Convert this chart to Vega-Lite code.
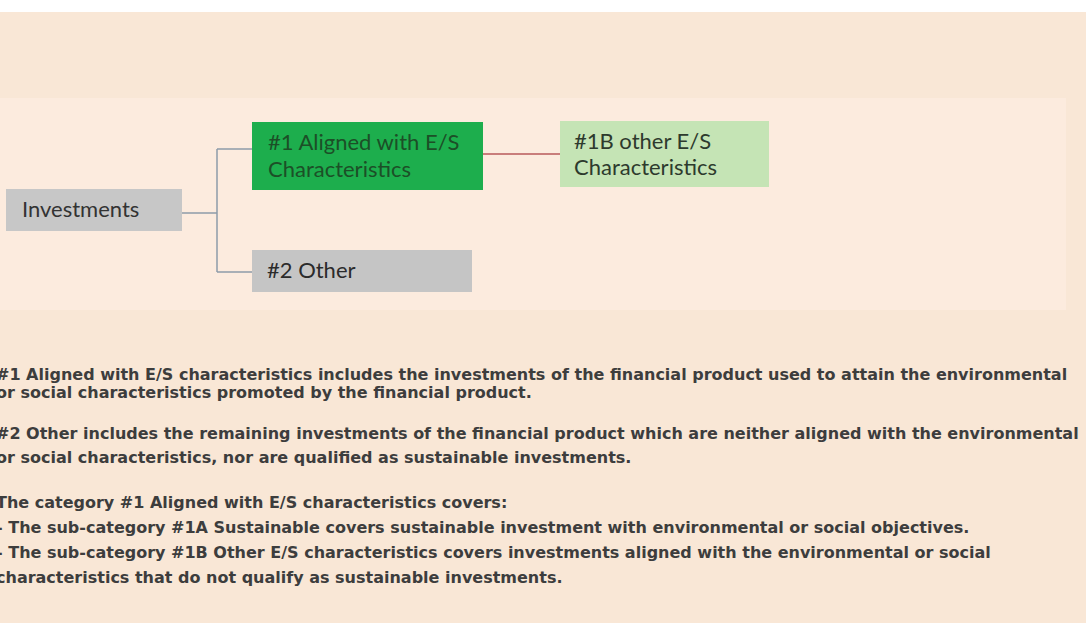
{
  "$schema": "https://vega.github.io/schema/vega-lite/v6.json",
  "width": 1086,
  "height": 623,
  "autosize": {"type": "none"},
  "padding": 0,
  "background": "#FFFFFF",
  "config": {"view": {"stroke": null}},
  "datasets": {
    "rects": [
      {"name": "page", "x": 0, "x2": 1086, "y": 12, "y2": 623, "c": "#F9E7D6"},
      {"name": "panel", "x": 0, "x2": 1066, "y": 98, "y2": 310, "c": "#FCEBDE"},
      {"name": "Investments", "x": 6, "x2": 182, "y": 189, "y2": 231, "c": "#C7C7C7"},
      {"name": "#1", "x": 252, "x2": 483, "y": 122, "y2": 190, "c": "#1DAE4D"},
      {"name": "#1B", "x": 560, "x2": 769, "y": 121, "y2": 187, "c": "#C5E4B5"},
      {"name": "#2", "x": 252, "x2": 472, "y": 250, "y2": 292, "c": "#C5C5C5"}
    ],
    "links": [
      {"x": 182, "x2": 217, "y": 213, "y2": 213, "c": "#8E9BA8"},
      {"x": 217, "x2": 217, "y": 149, "y2": 272, "c": "#8E9BA8"},
      {"x": 217, "x2": 252, "y": 149, "y2": 149, "c": "#8E9BA8"},
      {"x": 217, "x2": 252, "y": 272, "y2": 272, "c": "#8E9BA8"},
      {"x": 483, "x2": 560, "y": 154, "y2": 154, "c": "#B9595A"}
    ],
    "labels": [
      {"t": "Investments", "x": 22, "y": 210, "c": "#333333"},
      {"t": "#1 Aligned with E/S", "x": 268, "y": 143, "c": "#1C4F27"},
      {"t": "Characteristics", "x": 268, "y": 170, "c": "#1C4F27"},
      {"t": "#1B other E/S", "x": 574, "y": 142, "c": "#2D3A2D"},
      {"t": "Characteristics", "x": 574, "y": 168, "c": "#2D3A2D"},
      {"t": "#2 Other", "x": 267, "y": 271, "c": "#2B2B2B"}
    ],
    "notes": [
      {"t": "#1 Aligned with E/S characteristics includes the investments of the financial product used to attain the environmental", "x": -4, "y": 375},
      {"t": "or social characteristics promoted by the financial product.", "x": -4, "y": 393},
      {"t": "#2 Other includes the remaining investments of the financial product which are neither aligned with the environmental", "x": -4, "y": 434},
      {"t": "or social characteristics, nor are qualified as sustainable investments.", "x": -4, "y": 458},
      {"t": "The category #1 Aligned with E/S characteristics covers:", "x": -4, "y": 503},
      {"t": "- The sub-category #1A Sustainable covers sustainable investment with environmental or social objectives.", "x": -4, "y": 528},
      {"t": "- The sub-category #1B Other E/S characteristics covers investments aligned with the environmental or social", "x": -4, "y": 553},
      {"t": "characteristics that do not qualify as sustainable investments.", "x": -4, "y": 578}
    ]
  },
  "layer": [
    {
      "data": {"name": "rects"},
      "mark": {"type": "rect"},
      "encoding": {
        "x": {"field": "x", "type": "quantitative", "scale": {"domain": [0, 1086], "nice": false, "zero": false}, "axis": null},
        "x2": {"field": "x2"},
        "y": {"field": "y", "type": "quantitative", "scale": {"domain": [0, 623], "nice": false, "zero": false, "reverse": true}, "axis": null},
        "y2": {"field": "y2"},
        "color": {"field": "c", "type": "nominal", "scale": null, "legend": null}
      }
    },
    {
      "data": {"name": "links"},
      "mark": {"type": "rule", "strokeWidth": 1.5},
      "encoding": {
        "x": {"field": "x", "type": "quantitative"},
        "x2": {"field": "x2"},
        "y": {"field": "y", "type": "quantitative"},
        "y2": {"field": "y2"},
        "color": {"field": "c", "type": "nominal", "scale": null, "legend": null}
      }
    },
    {
      "data": {"name": "labels"},
      "mark": {"type": "text", "align": "left", "baseline": "middle", "font": "Lato", "fontSize": 22},
      "encoding": {
        "x": {"field": "x", "type": "quantitative"},
        "y": {"field": "y", "type": "quantitative"},
        "text": {"field": "t"},
        "color": {"field": "c", "type": "nominal", "scale": null, "legend": null}
      }
    },
    {
      "data": {"name": "notes"},
      "mark": {"type": "text", "align": "left", "baseline": "middle", "font": "DejaVu Sans", "fontWeight": "bold", "fontSize": 16, "color": "#3D3D3D", "clip": true},
      "encoding": {
        "x": {"field": "x", "type": "quantitative"},
        "y": {"field": "y", "type": "quantitative"},
        "text": {"field": "t"}
      }
    }
  ]
}
